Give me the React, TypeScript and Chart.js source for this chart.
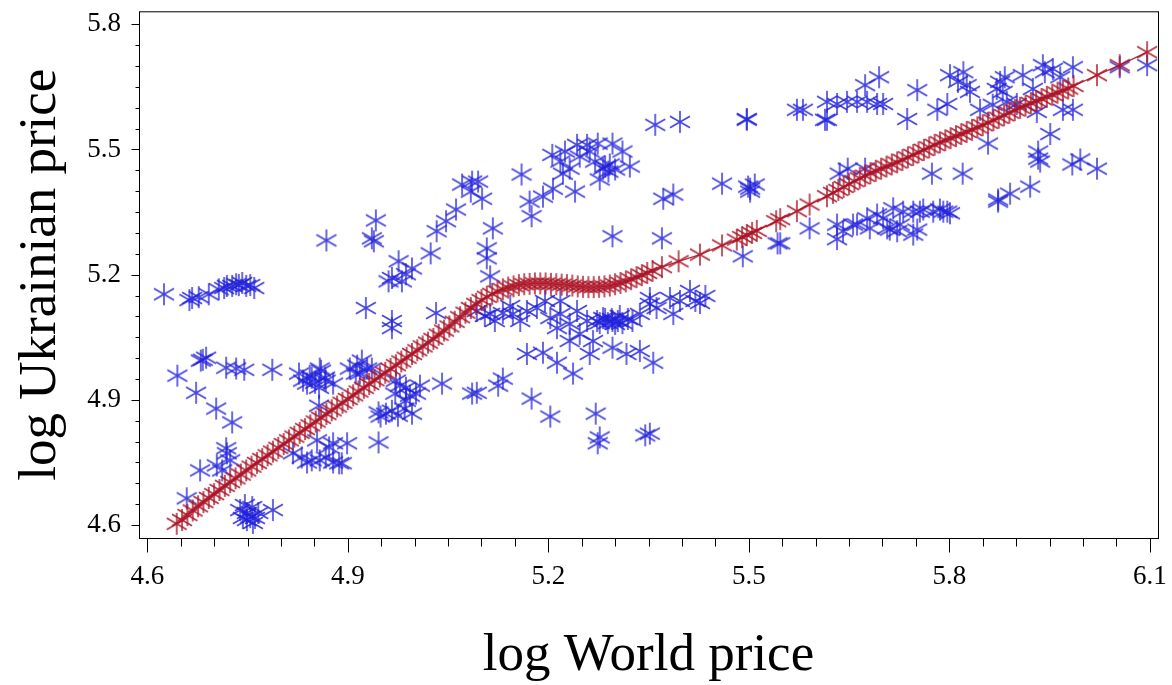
import React, { useEffect, useRef } from "react";
import { Chart, registerables } from "chart.js";

Chart.register(...registerables);

// ---------- axis ticks ----------
const X_MAJOR_TICKS = [4.6, 4.9, 5.2, 5.5, 5.8, 6.1];
const X_MINOR_TICKS = [4.65, 4.7, 4.75, 4.8, 4.85, 4.95, 5.0, 5.05, 5.1, 5.15, 5.25, 5.3, 5.35, 5.4, 5.45, 5.55, 5.6, 5.65, 5.7, 5.75, 5.85, 5.9, 5.95, 6.0, 6.05];
const Y_MAJOR_TICKS = [4.6, 4.9, 5.2, 5.5, 5.8];
const Y_MINOR_TICKS = [4.65, 4.7, 4.75, 4.8, 4.85, 4.95, 5.0, 5.05, 5.1, 5.15, 5.25, 5.3, 5.35, 5.4, 5.45, 5.55, 5.6, 5.65, 5.7, 5.75];
const X_LIMITS = [4.5876, 6.1123];
const Y_LIMITS = [4.569, 5.831];

const X_TITLE = "log World price";
const Y_TITLE = "log Ukrainian price";

// ---------- observed points: [log World price, log Ukrainian price] ----------
const obsLeft: [number, number][] = [
  [4.625, 5.153], [4.663, 5.139], [4.667, 5.144], [4.677, 5.146], [4.692, 5.153], [4.707, 5.165],
  [4.719, 5.173], [4.727, 5.173], [4.733, 5.177], [4.737, 5.175], [4.748, 5.173], [4.760, 5.168],
  [4.715, 5.168], [4.742, 5.180], [4.754, 5.175],
  [4.645, 4.958], [4.680, 4.994], [4.688, 5.001], [4.683, 4.996], [4.718, 4.977], [4.733, 4.975],
  [4.745, 4.972], [4.787, 4.972], [4.673, 4.917], [4.703, 4.879], [4.727, 4.846],
  [4.719, 4.772], [4.724, 4.755], [4.704, 4.743], [4.679, 4.731], [4.712, 4.731], [4.718, 4.784],
  [4.659, 4.664], [4.739, 4.636], [4.757, 4.643], [4.749, 4.629], [4.749, 4.612], [4.758, 4.605],
  [4.766, 4.629], [4.788, 4.636], [4.746, 4.648], [4.754, 4.619], [4.743, 4.617], [4.761, 4.617],
];

const obsMidLow: [number, number][] = [
  [4.827, 4.963], [4.843, 4.958], [4.858, 4.975], [4.866, 4.953], [4.851, 4.941], [4.833, 4.946],
  [4.878, 4.939], [4.846, 4.953], [4.839, 4.939], [4.857, 4.929], [4.867, 4.946], [4.860, 4.970],
  [4.914, 4.982], [4.929, 4.975], [4.918, 4.963], [4.903, 4.975], [4.921, 4.994], [4.936, 4.975],
  [4.912, 4.963],
  [4.972, 4.946], [4.987, 4.929], [5.002, 4.915], [5.041, 4.939], [5.086, 4.915], [4.987, 4.898],
  [4.978, 4.934], [4.993, 4.910], [4.971, 4.915], [5.008, 4.934],
  [4.946, 4.870], [4.957, 4.867], [4.996, 4.867], [4.857, 4.886], [4.966, 4.874], [4.949, 4.860],
  [4.985, 4.879], [4.975, 4.862],
  [4.818, 4.772], [4.839, 4.750], [4.858, 4.755], [4.878, 4.750], [4.891, 4.748], [4.854, 4.803],
  [4.878, 4.796], [4.899, 4.796], [4.831, 4.762], [4.846, 4.755], [4.867, 4.762], [4.887, 4.748],
  [4.946, 4.798], [4.872, 4.786],
];

const obsMidHigh: [number, number][] = [
  [4.868, 5.282], [4.942, 5.330], [4.939, 5.280], [4.936, 5.287], [4.976, 5.232], [4.996, 5.215],
  [5.024, 5.251], [5.033, 5.304], [5.047, 5.328], [5.062, 5.356], [5.071, 5.416], [5.086, 5.423],
  [5.084, 5.399], [4.966, 5.192], [4.927, 5.120], [4.966, 5.089], [4.966, 5.072], [5.032, 5.108],
  [4.961, 5.184], [4.981, 5.184], [4.987, 5.201], [5.095, 5.423], [5.101, 5.382], [5.117, 5.311],
  [5.108, 5.263], [5.108, 5.239], [5.113, 5.196],
  [5.160, 5.440], [5.172, 5.375], [5.175, 5.340], [5.192, 5.387], [5.207, 5.406], [5.206, 5.487],
  [5.222, 5.442], [5.225, 5.495], [5.232, 5.454], [5.243, 5.511], [5.240, 5.399], [5.258, 5.511],
  [5.274, 5.514], [5.282, 5.454], [5.292, 5.464], [5.296, 5.514], [5.311, 5.495], [5.322, 5.459],
  [5.277, 5.428], [5.285, 5.459], [5.270, 5.471], [5.290, 5.447], [5.300, 5.452], [5.262, 5.495],
  [5.218, 5.471], [5.247, 5.483], [5.296, 5.292], [5.370, 5.287], [5.360, 5.559], [5.397, 5.566],
  [5.372, 5.382], [5.387, 5.392], [5.460, 5.418], [5.497, 5.571], [5.499, 5.411], [5.509, 5.416],
  [5.502, 5.399], [5.572, 5.595], [5.543, 5.275], [5.491, 5.244],
];

const obsMidBand: [number, number][] = [
  [5.093, 5.113], [5.113, 5.106], [5.132, 5.108], [5.147, 5.106], [5.158, 5.089], [5.168, 5.113],
  [5.183, 5.120], [5.203, 5.096], [5.218, 5.106], [5.232, 5.082], [5.243, 5.113], [5.258, 5.089],
  [5.273, 5.089], [5.282, 5.096], [5.296, 5.089], [5.311, 5.084], [5.326, 5.089], [5.337, 5.106],
  [5.352, 5.130], [5.362, 5.120], [5.382, 5.144], [5.397, 5.137], [5.387, 5.106], [5.427, 5.132],
  [5.352, 5.144], [5.213, 5.072], [5.232, 5.041], [5.247, 5.058], [5.267, 5.041], [5.262, 5.010],
  [5.296, 5.025], [5.317, 5.010], [5.337, 5.017], [5.357, 4.989], [5.168, 5.010], [5.192, 5.013],
  [5.213, 4.989], [5.237, 4.963], [5.093, 4.917], [5.125, 4.934], [5.132, 4.951], [5.175, 4.903],
  [5.203, 4.860], [5.271, 4.867], [5.277, 4.810], [5.274, 4.796], [5.345, 4.815], [5.352, 4.819],
  [5.105, 5.101], [5.120, 5.089], [5.143, 5.125], [5.195, 5.137], [5.218, 5.137], [5.412, 5.161],
  [5.420, 5.137], [5.435, 5.149], [5.307, 5.101], [5.319, 5.094], [5.289, 5.084], [5.300, 5.082],
  [5.277, 5.084], [5.285, 5.094], [5.295, 5.094], [5.304, 5.089],
];

const obsRight: [number, number][] = [
  [5.581, 5.595], [5.617, 5.614], [5.632, 5.609], [5.647, 5.614], [5.662, 5.614], [5.677, 5.614],
  [5.692, 5.609], [5.701, 5.609], [5.614, 5.571], [5.674, 5.654], [5.695, 5.673], [5.737, 5.573],
  [5.752, 5.642], [5.782, 5.595], [5.797, 5.609], [5.801, 5.678], [5.813, 5.662], [5.826, 5.654],
  [5.831, 5.638], [5.821, 5.685], [5.846, 5.595], [5.871, 5.645], [5.880, 5.638], [5.886, 5.614],
  [5.865, 5.607], [5.901, 5.609], [5.910, 5.678], [5.925, 5.645], [5.931, 5.590], [5.940, 5.702],
  [5.955, 5.693], [5.985, 5.697], [5.970, 5.595], [5.985, 5.595], [5.951, 5.537], [5.858, 5.514],
  [5.933, 5.495], [5.933, 5.478], [5.936, 5.471], [5.984, 5.464], [5.996, 5.476], [6.021, 5.454],
  [5.921, 5.411], [5.891, 5.394], [5.873, 5.380], [6.096, 5.702], [6.055, 5.697], [5.497, 5.573],
  [5.617, 5.571], [5.876, 5.662], [5.883, 5.673], [5.943, 5.685], [5.966, 5.673],
  [5.648, 5.454], [5.674, 5.454], [5.636, 5.442], [5.774, 5.442], [5.820, 5.442], [5.502, 5.406],
  [5.547, 5.275],
  [5.716, 5.359], [5.731, 5.351], [5.746, 5.351], [5.761, 5.356], [5.776, 5.351], [5.786, 5.356],
  [5.797, 5.351], [5.692, 5.344], [5.701, 5.335], [5.677, 5.335], [5.662, 5.320], [5.632, 5.320],
  [5.591, 5.311], [5.641, 5.304], [5.681, 5.311], [5.707, 5.311], [5.726, 5.320], [5.746, 5.296],
  [5.722, 5.304], [5.632, 5.285], [5.656, 5.320], [5.711, 5.308], [5.752, 5.308], [5.756, 5.351],
  [5.791, 5.351], [5.801, 5.347], [5.873, 5.375],
];

// ---------- fitted curve: [log World price, fitted log Ukrainian price] ----------
const fittedCurve: [number, number][] = [
  [4.644, 4.603], [4.652, 4.612], [4.66, 4.624], [4.668, 4.635], [4.676, 4.645], [4.684, 4.655],
  [4.692, 4.665], [4.70, 4.674], [4.708, 4.684], [4.716, 4.694], [4.724, 4.703], [4.732, 4.712],
  [4.74, 4.721], [4.748, 4.731], [4.756, 4.740], [4.764, 4.749], [4.772, 4.758], [4.78, 4.767],
  [4.788, 4.776], [4.796, 4.785], [4.804, 4.794], [4.812, 4.803], [4.82, 4.812], [4.828, 4.821],
  [4.836, 4.830], [4.844, 4.839], [4.852, 4.848], [4.86, 4.857], [4.868, 4.866], [4.876, 4.875],
  [4.884, 4.884], [4.892, 4.893], [4.90, 4.902], [4.908, 4.911], [4.916, 4.920], [4.924, 4.929],
  [4.932, 4.938], [4.94, 4.947], [4.948, 4.956], [4.956, 4.965], [4.964, 4.974], [4.972, 4.983],
  [4.98, 4.992], [4.988, 5.001], [4.996, 5.010], [5.004, 5.019], [5.012, 5.028], [5.02, 5.037],
  [5.028, 5.046], [5.036, 5.056], [5.044, 5.066], [5.052, 5.076], [5.06, 5.087], [5.068, 5.098],
  [5.076, 5.109], [5.084, 5.120], [5.092, 5.130], [5.10, 5.139], [5.108, 5.147], [5.116, 5.154],
  [5.124, 5.160], [5.132, 5.165], [5.14, 5.169], [5.148, 5.172], [5.156, 5.175], [5.164, 5.177],
  [5.172, 5.178], [5.18, 5.179], [5.188, 5.179], [5.196, 5.179], [5.204, 5.178], [5.212, 5.177],
  [5.22, 5.176], [5.228, 5.175], [5.236, 5.174], [5.244, 5.172], [5.252, 5.171], [5.26, 5.170],
  [5.268, 5.170], [5.276, 5.171], [5.284, 5.172], [5.292, 5.174], [5.30, 5.177], [5.308, 5.180],
  [5.316, 5.184], [5.324, 5.189], [5.332, 5.194], [5.34, 5.199], [5.348, 5.204], [5.356, 5.209],
  [5.37, 5.218], [5.395, 5.232], [5.427, 5.248], [5.46, 5.270], [5.482, 5.284], [5.49, 5.290],
  [5.497, 5.295], [5.505, 5.300], [5.512, 5.305], [5.541, 5.328], [5.547, 5.333], [5.572, 5.352],
  [5.591, 5.368], [5.617, 5.388], [5.626, 5.396], [5.634, 5.403], [5.642, 5.410], [5.65, 5.417],
  [5.658, 5.424], [5.666, 5.431], [5.674, 5.437], [5.682, 5.443], [5.69, 5.449], [5.698, 5.454],
  [5.706, 5.459], [5.714, 5.464], [5.722, 5.469], [5.73, 5.475], [5.738, 5.481], [5.746, 5.487],
  [5.754, 5.493], [5.762, 5.499], [5.77, 5.505], [5.778, 5.511], [5.786, 5.517], [5.794, 5.522],
  [5.802, 5.527], [5.81, 5.532], [5.818, 5.537], [5.826, 5.542], [5.834, 5.547], [5.842, 5.553],
  [5.85, 5.558], [5.858, 5.564], [5.866, 5.570], [5.874, 5.576], [5.882, 5.582], [5.89, 5.588],
  [5.898, 5.594], [5.906, 5.600], [5.914, 5.605], [5.922, 5.611], [5.93, 5.616], [5.938, 5.621],
  [5.946, 5.626], [5.954, 5.631], [5.962, 5.636], [5.97, 5.641], [5.978, 5.646], [5.986, 5.652],
  [6.021, 5.678], [6.055, 5.702], [6.096, 5.733],
];

const BLUE = "rgba(34,34,218,0.85)";
const RED = "rgba(172,22,40,0.9)";
const SERIF = "'Liberation Serif', 'Times New Roman', serif";

function makeAsterisk(color: string): HTMLCanvasElement {
  const c = document.createElement("canvas");
  c.width = 24;
  c.height = 24;
  const g = c.getContext("2d")!;
  g.strokeStyle = color;
  g.lineWidth = 1.6;
  const cx = 12, cy = 12;
  g.beginPath();
  g.moveTo(cx, cy - 11);
  g.lineTo(cx, cy + 11);
  g.moveTo(cx - 10, cy - 5.7);
  g.lineTo(cx + 10, cy + 5.7);
  g.moveTo(cx - 10, cy + 5.7);
  g.lineTo(cx + 10, cy - 5.7);
  g.stroke();
  return c;
}

const toXY = (arr: [number, number][]) => arr.map(([x, y]) => ({ x, y }));

const frameAndTicks = {
  id: "frameAndTicks",
  afterDraw(chart: any) {
    const { ctx, chartArea: a, scales } = chart;
    const xs = scales.x;
    const ys = scales.y;
    ctx.save();
    ctx.strokeStyle = "#000";
    ctx.lineWidth = 1;
    ctx.strokeRect(a.left + 0.5, a.top + 0.5, a.right - a.left, a.bottom - a.top);
    ctx.beginPath();
    const xTick = (v: number, len: number) => {
      const p = Math.round(xs.getPixelForValue(v)) + 0.5;
      ctx.moveTo(p, a.bottom + 0.5);
      ctx.lineTo(p, a.bottom + 0.5 + len);
    };
    const yTick = (v: number, len: number) => {
      const p = Math.round(ys.getPixelForValue(v)) + 0.5;
      ctx.moveTo(a.left + 0.5, p);
      ctx.lineTo(a.left + 0.5 - len, p);
    };
    X_MAJOR_TICKS.forEach((v) => xTick(v, 14));
    X_MINOR_TICKS.forEach((v) => xTick(v, 8));
    Y_MAJOR_TICKS.forEach((v) => yTick(v, 8));
    Y_MINOR_TICKS.forEach((v) => yTick(v, 4));
    ctx.stroke();
    ctx.restore();
  },
};

export default function App() {
  const ref = useRef<HTMLCanvasElement>(null);
  useEffect(() => {
    document.body.style.margin = "0";
    const blueMark = makeAsterisk(BLUE);
    const redMark = makeAsterisk(RED);
    const observed = [...obsLeft, ...obsMidLow, ...obsMidHigh, ...obsMidBand, ...obsRight];
    const chart = new Chart(ref.current!, {
      type: "scatter",
      data: {
        datasets: [
          {
            label: "Fitted",
            data: toXY(fittedCurve),
            pointStyle: redMark as any,
            pointRadius: 10,
            showLine: true,
            borderColor: RED,
            borderWidth: 1.3,
            backgroundColor: RED,
          },
          {
            label: "Observed",
            data: toXY(observed),
            pointStyle: blueMark as any,
            pointRadius: 10,
            showLine: false,
            borderColor: BLUE,
            backgroundColor: BLUE,
          },
        ],
      },
      options: {
        responsive: false,
        animation: false,
        events: [],
        layout: { padding: { top: 9, right: 14, bottom: 0, left: 0 } },
        plugins: { legend: { display: false }, tooltip: { enabled: false } },
        scales: {
          x: {
            type: "linear",
            min: X_LIMITS[0],
            max: X_LIMITS[1],
            afterBuildTicks: (s: any) => {
              s.ticks = X_MAJOR_TICKS.map((v) => ({ value: v }));
            },
            afterFit: (s: any) => {
              s.height = 147;
              s.paddingLeft = 0;
              s.paddingRight = 0;
              s.paddingTop = 0;
              s.paddingBottom = 0;
            },
            grid: { display: false, drawTicks: false },
            border: { display: false },
            ticks: {
              color: "#000",
              font: { family: SERIF, size: 27 },
              padding: 23,
              maxRotation: 0,
              autoSkip: false,
              callback: (v: any) => Number(v).toFixed(1),
            },
            title: {
              display: true,
              text: X_TITLE,
              color: "#000",
              font: { family: SERIF, size: 53 },
              padding: { top: 0, bottom: -3 },
            },
          },
          y: {
            type: "linear",
            min: Y_LIMITS[0],
            max: Y_LIMITS[1],
            afterBuildTicks: (s: any) => {
              s.ticks = Y_MAJOR_TICKS.map((v) => ({ value: v }));
            },
            afterFit: (s: any) => {
              s.width = 139;
              s.paddingLeft = 0;
              s.paddingRight = 0;
              s.paddingTop = 0;
              s.paddingBottom = 0;
            },
            grid: { display: false, drawTicks: false },
            border: { display: false },
            ticks: {
              color: "#000",
              font: { family: SERIF, size: 27 },
              padding: 18,
              autoSkip: false,
              callback: (v: any) => Number(v).toFixed(1),
            },
            title: {
              display: true,
              text: Y_TITLE,
              color: "#000",
              font: { family: SERIF, size: 53 },
              padding: { top: 9, bottom: 0 },
            },
          },
        },
      },
      plugins: [frameAndTicks],
    });
    return () => chart.destroy();
  }, []);
  return <canvas ref={ref} width={1172} height={685} style={{ display: "block" }} />;
}
